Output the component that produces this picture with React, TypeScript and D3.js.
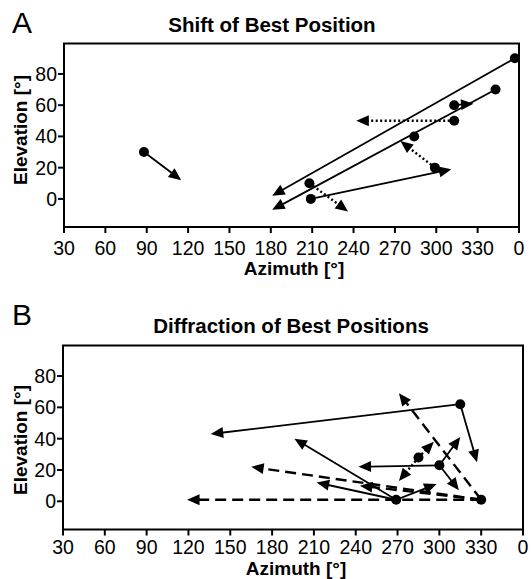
import React from "react";
import * as d3 from "d3";

// ---------- data ----------
const azimuthTicks = [30, 60, 90, 120, 150, 180, 210, 240, 270, 300, 330, 360];
const azimuthTickLabels = ["30", "60", "90", "120", "150", "180", "210", "240", "270", "300", "330", "0"];
const elevationTicks = [0, 20, 40, 60, 80];
const azimuthDomain = [30, 360];
const elevationDomain = [-18, 99.5];

// Panel A: start positions [azimuth, elevation]
const shiftPoints: [number, number][] = [
  [88, 30], [357, 90], [343, 70], [313, 60], [313, 50],
  [284, 40], [299, 20], [208, 10], [209, 0],
];
// Panel A arrows: [fromAz, fromEl, toAz, toEl, style]
const shiftArrows: [number, number, number, number, string][] = [
  [88, 30, 115, 12, "solid"],
  [357, 90, 181, 2, "solid"],
  [343, 70, 181, -7, "solid"],
  [313, 60, 327, 61, "solid"],
  [313, 50, 242, 50, "dotted"],
  [299, 20, 274, 37, "dotted"],
  [208, 10, 236, -8, "dotted"],
  [209, 0, 311, 19, "solid"],
];

// Panel B
const diffractionPoints: [number, number][] = [
  [315, 62], [285, 28], [300, 23], [269, 1], [330, 1],
];
const diffractionArrows: [number, number, number, number, string][] = [
  [315, 62, 136, 43, "solid"],
  [315, 62, 327, 25, "solid"],
  [285, 28, 296, 38, "dotted"],
  [285, 28, 271, 13, "dotted"],
  [300, 23, 242, 22, "solid"],
  [300, 23, 315, 41, "solid"],
  [300, 23, 314, 7, "solid"],
  [269, 1, 196, 40, "solid"],
  [269, 1, 212, 12, "solid"],
  [269, 1, 298, 11, "solid"],
  [330, 1, 271, 69, "dashed"],
  [330, 1, 165, 22, "dashed"],
  [330, 1, 119, 1, "dashed"],
  [330, 1, 243, 10, "dashed"],
];

const FONT = "'Liberation Sans', Arial, Helvetica, sans-serif";

type PanelProps = {
  letter: string;
  letterY: number;
  title: string;
  titleX: number;
  titleY: number;
  left: number;
  right: number;
  top: number;
  bottom: number;
  tickLabelY: number;
  xTitleX: number;
  xTitleY: number;
  yTitleY: number;
  points: [number, number][];
  arrows: [number, number, number, number, string][];
};

function Panel(p: PanelProps) {
  const x = d3.scaleLinear().domain(azimuthDomain).range([p.left, p.right]);
  const y = d3.scaleLinear().domain(elevationDomain).range([p.bottom, p.top]);
  const L = 12.5;
  const W = 5.5;
  return (
    <g>
      <text x={12} y={p.letterY} fontFamily={FONT} fontSize={30}>{p.letter}</text>
      <text x={p.titleX} y={p.titleY} fontFamily={FONT} fontSize={20.5} fontWeight="bold" textAnchor="middle">{p.title}</text>
      <rect x={p.left} y={p.top} width={p.right - p.left} height={p.bottom - p.top} fill="none" stroke="#000" strokeWidth={2} />
      {azimuthTicks.map((t, i) => (
        <g key={"xt" + i}>
          <line x1={x(t)} x2={x(t)} y1={p.bottom} y2={p.bottom + 6} stroke="#000" strokeWidth={2} />
          <text x={x(t)} y={p.tickLabelY} fontFamily={FONT} fontSize={19.5} textAnchor="middle">{azimuthTickLabels[i]}</text>
        </g>
      ))}
      {elevationTicks.map((t, i) => (
        <g key={"yt" + i}>
          <line x1={p.left - 6} x2={p.left} y1={y(t)} y2={y(t)} stroke="#000" strokeWidth={2} />
          <text x={p.left - 7} y={y(t)} dy="0.36em" fontFamily={FONT} fontSize={19.5} textAnchor="end">{t}</text>
        </g>
      ))}
      <text x={p.xTitleX} y={p.xTitleY} fontFamily={FONT} fontSize={19} fontWeight="bold" textAnchor="middle">Azimuth [°]</text>
      <text transform={`translate(27,${p.yTitleY}) rotate(-90)`} fontFamily={FONT} fontSize={19} fontWeight="bold" textAnchor="middle">Elevation [°]</text>
      {p.arrows.map((a, i) => {
        const sx = x(a[0]), sy = y(a[1]), ex = x(a[2]), ey = y(a[3]);
        const ang = Math.atan2(ey - sy, ex - sx);
        const c = Math.cos(ang), s = Math.sin(ang);
        const bx = ex - L * c, by = ey - L * s;
        const pts = [
          [ex, ey],
          [bx - W * s, by + W * c],
          [bx + W * s, by - W * c],
        ];
        const dash = a[4] === "dashed" ? "11,6" : a[4] === "dotted" ? "2,2.5" : undefined;
        const sw = a[4] === "solid" ? 1.8 : 2.4;
        return (
          <g key={"a" + i}>
            <line x1={sx} y1={sy} x2={bx + 2 * c} y2={by + 2 * s} stroke="#000" strokeWidth={sw} strokeDasharray={dash} />
            <polygon points={pts.map((q) => q.join(",")).join(" ")} fill="#000" />
          </g>
        );
      })}
      {p.points.map((q, i) => (
        <circle key={"c" + i} cx={x(q[0])} cy={y(q[1])} r={5} fill="#000" />
      ))}
    </g>
  );
}

export default function App() {
  return (
    <div style={{ position: "absolute", left: 0, top: 0 }}>
      <svg width={531} height={579} style={{ display: "block", background: "#fff" }}>
        <Panel
          letter="A" letterY={33}
          title="Shift of Best Position" titleX={272} titleY={32}
          left={64} right={519} top={43.5} bottom={227}
          tickLabelY={255}
          xTitleX={294} xTitleY={275}
          yTitleY={130}
          points={shiftPoints} arrows={shiftArrows}
        />
        <Panel
          letter="B" letterY={325}
          title="Diffraction of Best Positions" titleX={291} titleY={333}
          left={63} right={523} top={345.5} bottom={529.5}
          tickLabelY={554}
          xTitleX={296} xTitleY={575}
          yTitleY={440}
          points={diffractionPoints} arrows={diffractionArrows}
        />
      </svg>
    </div>
  );
}
